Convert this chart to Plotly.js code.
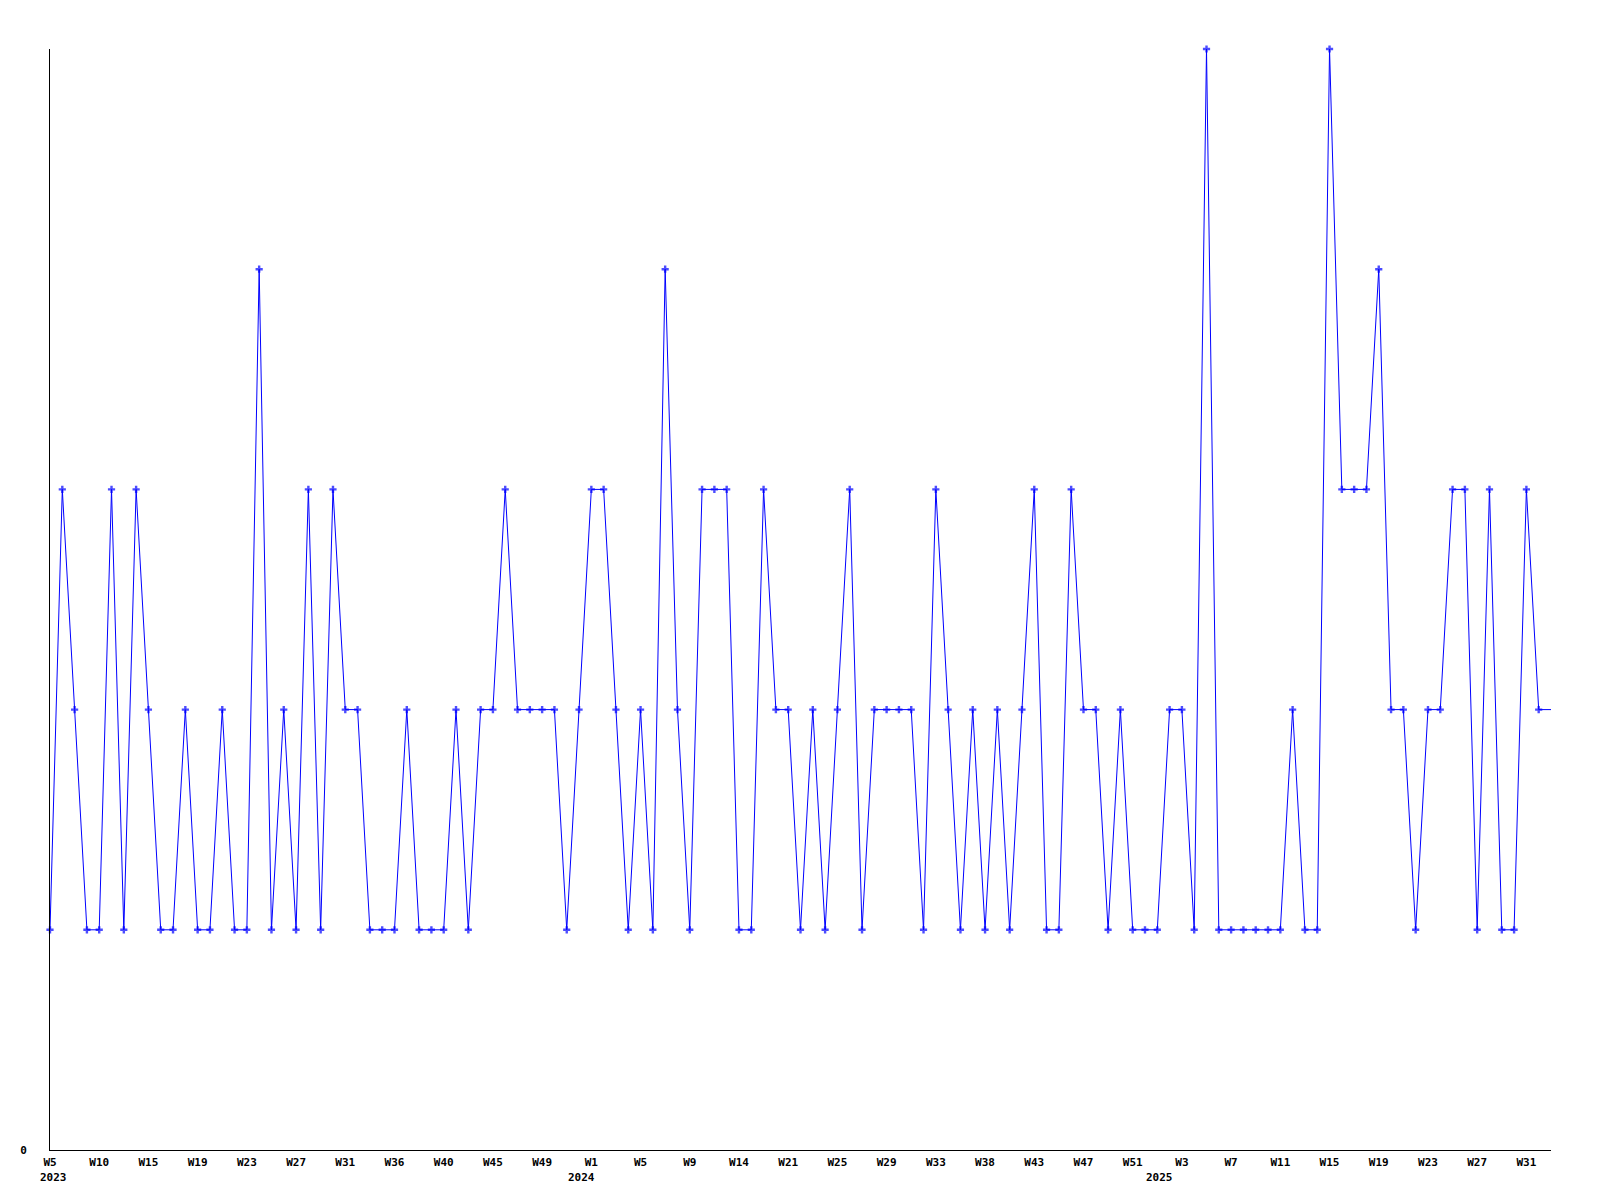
<!DOCTYPE html>
<html><head><meta charset="utf-8">
<script src="https://cdn.plot.ly/plotly-3.0.1.min.js"></script>
<style>html,body{margin:0;padding:0;background:#fff}</style>
</head><body>
<div id="chart" style="width:1600px;height:1200px"></div>
<script>
// ISO weeks shown on the axis, per year
const weeks2023 = [5,6,7,8,10,11,12,13,15,16,17,18,19,20,21,22,23,24,25,26,27,28,29,30,31,32,33,34,36,37,38,39,40,41,42,44,45,46,47,48,49,50,51,52];
const weeks2024 = [1,2,3,4,5,6,7,8,9,10,11,12,14,15,17,19,21,22,23,24,25,26,27,28,29,30,31,32,33,34,35,36,38,39,40,41,43,44,45,46,47,48,49,50,51,52];
const weeks2025 = [1,2,3,4,5,6,7,8,9,10,11,12,13,14,15,16,17,18,19,20,21,22,23,24,25,26,27,28,29,30,31,32,33];
// weekly counts
const values2023 = [1,3,2,1,1,3,1,3,2,1, 1,2,1,1,2,1,1,4,1,2, 1,3,1,3,2,2,1,1,1,2, 1,1,1,2,1,2,2,3,2,2, 2,2,1,2];
const values2024 = [3,3,2,1,2,1,4,2,1,3, 3,3,1,1,3,2,2,1,2,1, 2,3,1,2,2,2,2,1,3,2, 1,2,1,2,1,2,3,1,1,3, 2,2,1,2,1,1];
const values2025 = [1,2,2,1,5,1,1,1,1,1, 1,2,1,1,5,3,3,3,4,2, 2,1,2,2,3,3,1,3,1,1, 3,2,2];
const years = [2023, 2024, 2025];
const yTickVals = [0];
const yTickText = ['0'];

const weekSets = [weeks2023, weeks2024, weeks2025];
const valueSets = [values2023, values2024, values2025];
const cats = [], vals = [], weekNums = [], yearStart = [];
weekSets.forEach((ws, k) => {
  yearStart.push(cats.length);
  ws.forEach((w, j) => {
    cats.push(years[k] + '-W' + String(w).padStart(2, '0'));
    weekNums.push(w);
    vals.push(valueSets[k][j]);
  });
});

const tickvals = [], ticktext = [];
cats.forEach((c, i) => { if (i % 4 === 0) { tickvals.push(c); ticktext.push('W' + weekNums[i]); } });

const n = cats.length;
const sizes = cats.map((c, i) => i === n - 1 ? 0 : 6);

const font = {family: 'DejaVu Sans Mono, monospace', size: 11, color: '#000', weight: 'bold'};
const yearShift = [3, -10, 2];

const trace = {
  type: 'scatter', mode: 'lines+markers',
  x: cats, y: vals,
  line: {color: '#0000ff', width: 1},
  marker: {symbol: 'cross', size: sizes, color: '#0000ff', line: {width: 0}},
  cliponaxis: false,
  hoverinfo: 'x+y'
};

const annotations = years.map((yr, k) => ({
  x: yearStart[k], y: 0, xref: 'x', yref: 'paper',
  text: String(yr), showarrow: false, font: font,
  xanchor: 'center', yanchor: 'top', yshift: -19, xshift: yearShift[k]
}));

const layout = {
  width: 1600, height: 1200,
  margin: {l: 50, r: 49, t: 49, b: 50, pad: 0},
  paper_bgcolor: '#fff', plot_bgcolor: '#fff',
  showlegend: false,
  font: font,
  xaxis: {
    type: 'category', categoryorder: 'array', categoryarray: cats,
    range: [0, n - 1], autorange: false,
    tickmode: 'array', tickvals: tickvals, ticktext: ticktext,
    showgrid: false, zeroline: false,
    showline: true, linecolor: '#000', linewidth: 1,
    ticks: '', tickfont: font, ticklabelstandoff: 2
  },
  yaxis: {
    range: [0, 5], autorange: false,
    tickmode: 'array', tickvals: yTickVals, ticktext: yTickText,
    showgrid: false, zeroline: false,
    showline: true, linecolor: '#000', linewidth: 1,
    ticks: '', tickfont: font, ticklabelstandoff: 20
  },
  annotations: annotations
};

Plotly.newPlot('chart', [trace], layout, {displayModeBar: false, staticPlot: true});
</script>
</body></html>
